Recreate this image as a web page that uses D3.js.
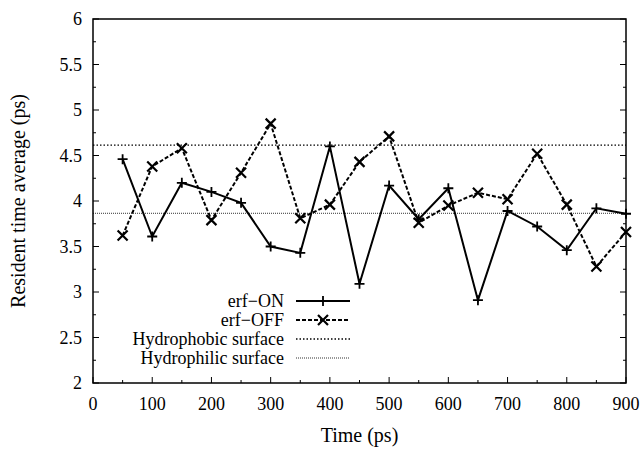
<!DOCTYPE html>
<head>
<meta charset="utf-8">
<script src="https://d3js.org/d3.v7.min.js"></script>
<style>
  body {margin: 0; background: #fff;}
</style>
</head>
<body>
<script>
// data
var times = [50,100,150,200,250,300,350,400,450,500,550,600,650,700,750,800,850,900];
var erfOn  = [4.46,3.61,4.20,4.10,3.98,3.50,3.43,4.60,3.09,4.17,3.80,4.14,2.91,3.89,3.72,3.46,3.92,3.86];
var erfOff = [3.62,4.38,4.58,3.79,4.31,4.85,3.81,3.96,4.43,4.71,3.76,3.95,4.09,4.02,4.52,3.96,3.28,3.66];
var hydrophobic = 4.615;
var hydrophilic = 3.865;
var xTicks = [0,100,200,300,400,500,600,700,800,900];
var yTicks = [2,2.5,3,3.5,4,4.5,5,5.5,6];

var W = 643, H = 450;
var margin = {top: 19, right: 17, bottom: 67, left: 93};
var width = W - margin.left - margin.right,
    height = H - margin.top - margin.bottom;

var svg = d3.select("body").append("svg")
    .attr("width", W).attr("height", H)
    .attr("font-family", "'Liberation Serif', 'DejaVu Serif', serif");
var g = svg.append("g")
    .attr("transform", "translate(" + margin.left + "," + margin.top + ")");

var x = d3.scaleLinear().domain([0, 900]).range([0, width]);
var y = d3.scaleLinear().domain([2, 6]).range([height, 0]);

// minor + major ticks, inside, left/right/bottom
var xMinor = d3.range(50, 900, 100);
var yMinor = d3.range(2.25, 6, 0.5);

function tickLines(vals, len, side) {
  g.selectAll(null).data(vals).enter().append("line")
    .attr("stroke", "#000").attr("stroke-width", 1)
    .each(function(d) {
      var s = d3.select(this);
      if (side == "left") s.attr("x1", 0).attr("x2", len).attr("y1", y(d)).attr("y2", y(d));
      if (side == "right") s.attr("x1", width).attr("x2", width - len).attr("y1", y(d)).attr("y2", y(d));
      if (side == "bottom") s.attr("x1", x(d)).attr("x2", x(d)).attr("y1", height).attr("y2", height - len);
    });
}
tickLines(yTicks, 6, "left");
tickLines(yMinor, 3, "left");
tickLines(yTicks, 6, "right");
tickLines(yMinor, 3, "right");
tickLines(xTicks, 6, "bottom");
tickLines(xMinor, 3, "bottom");

g.selectAll(".ylab").data(yTicks).enter().append("text")
  .attr("x", -11).attr("y", function(d){return y(d);})
  .attr("dy", "0.35em").attr("text-anchor", "end")
  .attr("font-size", "18px")
  .text(function(d){return d;});

g.selectAll(".xlab").data(xTicks).enter().append("text")
  .attr("x", function(d){return x(d);}).attr("y", height + 27)
  .attr("text-anchor", "middle")
  .attr("font-size", "18px")
  .text(function(d){return d;});

svg.append("text")
  .attr("x", margin.left + width / 2).attr("y", 442)
  .attr("text-anchor", "middle").attr("font-size", "20px")
  .text("Time (ps)");

svg.append("text")
  .attr("transform", "translate(25," + (margin.top + height / 2) + ") rotate(-90)")
  .attr("text-anchor", "middle").attr("font-size", "20px")
  .text("Resident time average (ps)");

// reference lines
g.append("line")
  .attr("x1", 0).attr("x2", width)
  .attr("y1", y(hydrophobic)).attr("y2", y(hydrophobic))
  .attr("stroke", "#000").attr("stroke-width", 1.3).attr("stroke-dasharray", "1.5,2");
g.append("line")
  .attr("x1", 0).attr("x2", width)
  .attr("y1", y(hydrophilic)).attr("y2", y(hydrophilic))
  .attr("stroke", "#333").attr("stroke-width", 1).attr("stroke-dasharray", "1,1");

var line = d3.line().x(function(d){return x(d[0]);}).y(function(d){return y(d[1]);});
var onPts = times.map(function(t, i){return [t, erfOn[i]];});
var offPts = times.map(function(t, i){return [t, erfOff[i]];});

g.append("path").datum(offPts).attr("d", line)
  .attr("fill", "none").attr("stroke", "#000").attr("stroke-width", 2)
  .attr("stroke-dasharray", "4,2");
g.append("path").datum(onPts).attr("d", line)
  .attr("fill", "none").attr("stroke", "#000").attr("stroke-width", 2);

function plus(sel, cx, cy) {
  sel.append("path").attr("d", "M" + (cx-5) + "," + cy + "H" + (cx+5) + "M" + cx + "," + (cy-5) + "V" + (cy+5))
    .attr("stroke", "#000").attr("stroke-width", 1.8);
}
function cross(sel, cx, cy) {
  sel.append("path").attr("d", "M" + (cx-5) + "," + (cy-5) + "L" + (cx+5) + "," + (cy+5) + "M" + (cx-5) + "," + (cy+5) + "L" + (cx+5) + "," + (cy-5))
    .attr("stroke", "#000").attr("stroke-width", 2.2);
}
onPts.forEach(function(p){ plus(g, x(p[0]), y(p[1])); });
offPts.forEach(function(p){ cross(g, x(p[0]), y(p[1])); });

// legend
var legend = [
  {label: "erf\u2212ON", dash: null, w: 2, mark: "plus"},
  {label: "erf\u2212OFF", dash: "4,2", w: 2, mark: "cross"},
  {label: "Hydrophobic surface", dash: "1.5,2", w: 1.3, mark: null},
  {label: "Hydrophilic surface", dash: "1,1", w: 1, mark: null}
];
var lx = 284, ly = 301, lh = 19;
legend.forEach(function(d, i) {
  var yy = ly + i * lh;
  svg.append("text").attr("x", lx).attr("y", yy).attr("dy", "0.35em")
    .attr("text-anchor", "end").attr("font-size", "18px").text(d.label);
  svg.append("line").attr("x1", 296).attr("x2", 350).attr("y1", yy).attr("y2", yy)
    .attr("stroke", i == 3 ? "#333" : "#000").attr("stroke-width", d.w)
    .attr("stroke-dasharray", d.dash);
  if (d.mark == "plus") plus(svg, 323, yy);
  if (d.mark == "cross") cross(svg, 323, yy);
});

// frame
g.append("rect").attr("width", width).attr("height", height)
  .attr("fill", "none").attr("stroke", "#000").attr("stroke-width", 1.5);
</script>
</body>
</html>
